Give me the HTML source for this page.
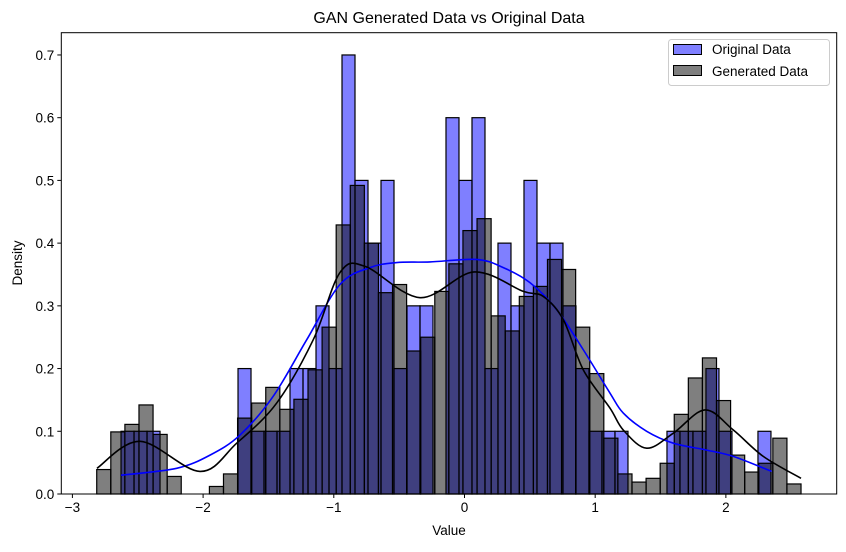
<!DOCTYPE html>
<html><head><meta charset="utf-8"><style>
html,body{margin:0;padding:0;background:#fff;}
svg text{font-family:"Liberation Sans","DejaVu Sans",sans-serif;fill:#000;}
</style></head><body>
<svg id="chart" width="846" height="547" viewBox="0 0 846 547" xmlns="http://www.w3.org/2000/svg">
<rect width="846" height="547" fill="#fff"/>
<text x="449" y="23" font-size="16" text-anchor="middle">GAN Generated Data vs Original Data</text>
<g id="plot"></g>
<text x="449" y="535" font-size="13.5" text-anchor="middle">Value</text>
<text transform="translate(22,263) rotate(-90)" font-size="13.5" text-anchor="middle">Density</text>
<g>
<rect x="668.5" y="39.5" width="161" height="46" rx="3" fill="#fff" fill-opacity="0.8" stroke="#ccc"/>
<rect x="673.5" y="44.5" width="28" height="10" fill="#0000ff" fill-opacity="0.5" stroke="#000"/>
<text x="712" y="54" font-size="13.5">Original Data</text>
<rect x="673.5" y="65.5" width="28" height="10" fill="#000" fill-opacity="0.5" stroke="#000"/>
<text x="712" y="76" font-size="13.5">Generated Data</text>
</g>
</svg>
<script>
const origStart = -2.628, origWidth = 0.09946;
const origDensity = [0.1,0.1,0.1,0,0,0,0,0,0,0.2,0.1,0.1,0.1,0.2,0.2,0.3,0.2,0.7,0.5,0.4,0.5,0.2,0.3,0.3,0,0.6,0.5,0.6,0.2,0.4,0.3,0.5,0.4,0.4,0.3,0.2,0.1,0.1,0.1,0,0,0,0.1,0.1,0.1,0.2,0.1,0,0,0.1];
const genStart = -2.814, genWidth = 0.10778;
const genDensity = [0.039,0.099,0.111,0.142,0.095,0.028,0,0,0.012,0.032,0.121,0.145,0.17,0.135,0.151,0.198,0.266,0.429,0.492,0.4,0.321,0.334,0.228,0.25,0.323,0.367,0.42,0.439,0.284,0.26,0.315,0.331,0.374,0.358,0.266,0.192,0.089,0.032,0.019,0.025,0.049,0.127,0.185,0.217,0.149,0.062,0.035,0.049,0.089,0.016];
const origKdeX = [-2.628,-2.202,-1.947,-1.718,-1.463,-1.207,-0.953,-0.723,-0.519,-0.264,0.093,0.297,0.501,0.705,0.909,1.113,1.215,1.394,1.598,1.853,2.057,2.350];
const origKdeY = [0.03,0.041,0.062,0.094,0.156,0.246,0.334,0.361,0.369,0.37,0.374,0.361,0.337,0.294,0.23,0.161,0.129,0.1,0.081,0.07,0.06,0.036];
const genKdeX = [-2.812,-2.483,-2.024,-1.743,-1.437,-1.157,-0.953,-0.761,-0.340,0.073,0.450,0.603,0.756,0.909,1.113,1.215,1.394,1.598,1.840,2.057,2.286,2.575];
const genKdeY = [0.041,0.084,0.036,0.081,0.145,0.246,0.353,0.363,0.313,0.354,0.323,0.315,0.278,0.198,0.137,0.102,0.073,0.097,0.134,0.102,0.06,0.025];
const xTicks = [-3,-2,-1,0,1,2];
const yTicks = [0,0.1,0.2,0.3,0.4,0.5,0.6,0.7];
const xTickLabels = ["\u22123","\u22122","\u22121","0","1","2"];
const yTickLabels = ["0.0","0.1","0.2","0.3","0.4","0.5","0.6","0.7"];

const L=61.3,R=836.7,T=32.7,B=494;
const xMin=-3.085,xMax=2.848,yMin=0,yMax=0.7355;
const sx=v=>L+(v-xMin)/(xMax-xMin)*(R-L);
const sy=v=>B-(v-yMin)/(yMax-yMin)*(B-T);
const NS="http://www.w3.org/2000/svg";
const g=document.getElementById('plot');
function mk(tag,attrs){const e=document.createElementNS(NS,tag);for(const k in attrs)e.setAttribute(k,attrs[k]);return e;}

origDensity.forEach((d,i)=>{ if(d<=0) return;
  const x0=sx(origStart+i*origWidth),x1=sx(origStart+(i+1)*origWidth);
  const r=mk('rect',{x:x0,y:sy(d),width:x1-x0,height:sy(0)-sy(d),fill:'#0000ff','fill-opacity':0.5,stroke:'#000','stroke-width':1.2});
  
  
  g.appendChild(r);
});
genDensity.forEach((d,i)=>{ if(d<=0) return;
  const x0=sx(genStart+i*genWidth),x1=sx(genStart+(i+1)*genWidth);
  const r=mk('rect',{x:x0,y:sy(d),width:x1-x0,height:sy(0)-sy(d),fill:'#000','fill-opacity':0.5,stroke:'#000','stroke-width':1.2});
  
  
  g.appendChild(r);
});
function curve(xs,ys){
  const p=xs.map((x,i)=>[sx(x),sy(ys[i])]);
  let d='M'+p[0][0]+','+p[0][1];
  for(let i=0;i<p.length-1;i++){
    const p0=p[i-1]||p[i],p1=p[i],p2=p[i+1],p3=p[i+2]||p[i+1];
    const c1=[p1[0]+(p2[0]-p0[0])/6,p1[1]+(p2[1]-p0[1])/6];
    const c2=[p2[0]-(p3[0]-p1[0])/6,p2[1]-(p3[1]-p1[1])/6];
    d+=' C'+c1[0]+','+c1[1]+' '+c2[0]+','+c2[1]+' '+p2[0]+','+p2[1];
  }
  return d;
}
const kb=mk('path',{d:curve(origKdeX,origKdeY),fill:'none',stroke:'#0000ff','stroke-width':1.6});


g.appendChild(kb);
const kg=mk('path',{d:curve(genKdeX,genKdeY),fill:'none',stroke:'#000','stroke-width':1.6});


g.appendChild(kg);

const frame=mk('rect',{x:L,y:T,width:R-L,height:B-T,fill:'none',stroke:'#000','stroke-width':1});


g.appendChild(frame);
xTicks.forEach((v,i)=>{
  const x=sx(v);
  const t=mk('line',{x1:x,x2:x,y1:B,y2:B+4,stroke:'#000'});
  
  
  g.appendChild(t);
  const tx=mk('text',{x:x,y:B+18,'font-size':13.5,'text-anchor':'middle'});
  tx.textContent=xTickLabels[i];
  
  
  g.appendChild(tx);
});
yTicks.forEach((v,i)=>{
  const y=sy(v);
  const t=mk('line',{x1:L-4,x2:L,y1:y,y2:y,stroke:'#000'});
  
  
  g.appendChild(t);
  const tx=mk('text',{x:L-7,y:y+5,'font-size':13.5,'text-anchor':'end'});
  tx.textContent=yTickLabels[i];
  
  
  g.appendChild(tx);
});
</script>
</body></html>
